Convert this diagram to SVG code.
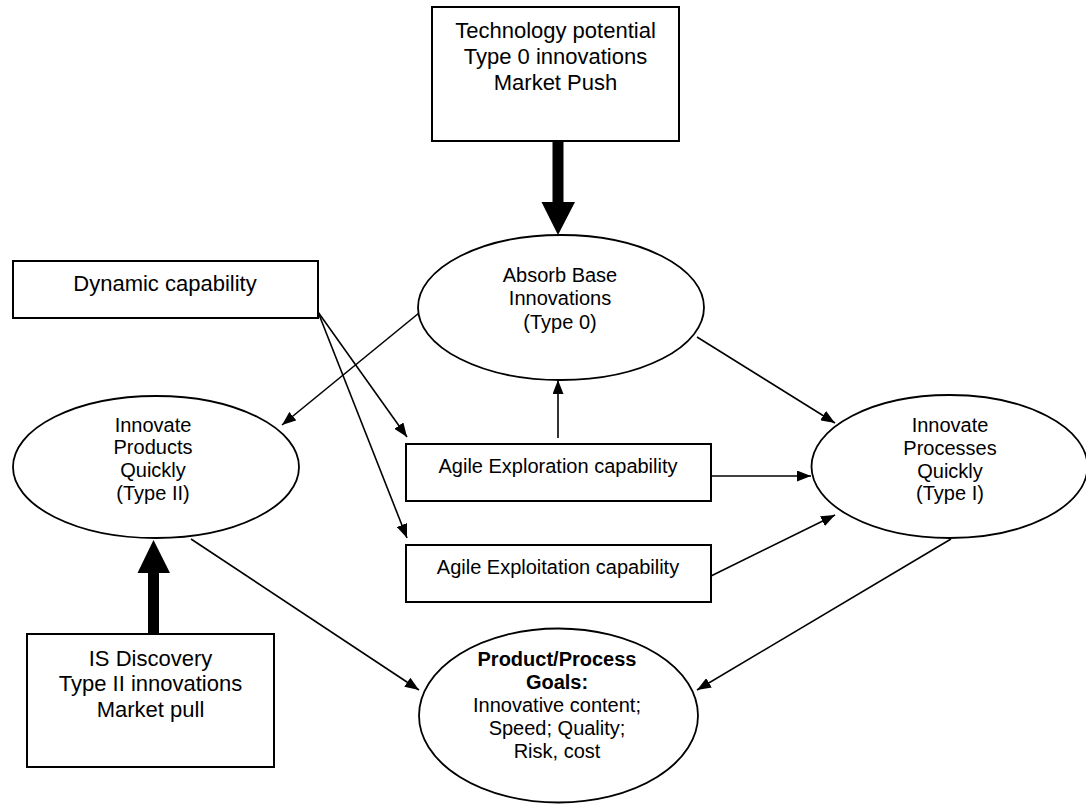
<svg xmlns="http://www.w3.org/2000/svg" width="1086" height="804" viewBox="0 0 1086 804">
<style>
  .box { fill: #fff; stroke: #000; stroke-width: 2; }
  .ell { fill: #fff; stroke: #000; stroke-width: 1.8; }
  .big { font-family: "Liberation Sans", Arial, sans-serif; font-size: 22px; fill: #000; text-anchor: middle; }
  .mid { font-family: "Liberation Sans", Arial, sans-serif; font-size: 20px; fill: #000; text-anchor: middle; }
  .bold { font-weight: bold; }
  .conn { stroke: #000; stroke-width: 1.6; fill: none; marker-end: url(#ah); }
  .thick { stroke: #000; stroke-width: 11; fill: none; }
  .head { fill: #000; stroke: none; }
</style>
<defs>
  <marker id="ah" markerUnits="userSpaceOnUse" markerWidth="15" markerHeight="11" refX="14" refY="5.5" orient="auto">
    <path d="M0,0 L14,5.5 L0,11 z" fill="#000"/>
  </marker>
</defs>
<rect width="1086" height="804" fill="#fff"/>

<g id="connectors">
  <line class="conn" x1="419" y1="313" x2="282" y2="425"/>
  <line class="conn" x1="318" y1="312" x2="407" y2="437"/>
  <line class="conn" x1="318" y1="312" x2="407" y2="538"/>
  <line class="conn" x1="697" y1="337" x2="835" y2="423"/>
  <line class="conn" x1="558" y1="438" x2="558" y2="380"/>
  <line class="conn" x1="711" y1="476" x2="811" y2="476"/>
  <line class="conn" x1="711" y1="576" x2="835" y2="515"/>
  <line class="conn" x1="191" y1="539" x2="419" y2="690"/>
  <line class="conn" x1="951" y1="539" x2="697" y2="690"/>
  <g id="thick-top">
    <line class="thick" x1="558" y1="141" x2="558" y2="203"/>
    <path class="head" d="M541.5,202 L575,202 L558,235 z"/>
  </g>
  <g id="thick-bottom">
    <line class="thick" x1="153.5" y1="634" x2="153.5" y2="572"/>
    <path class="head" d="M137.5,573 L170,573 L153.5,540 z"/>
  </g>
</g>

<g id="tech">
  <rect class="box" x="432" y="7" width="247" height="134"/>
  <text class="big" x="555.5" y="38">Technology potential</text>
  <text class="big" x="555.5" y="64">Type 0 innovations</text>
  <text class="big" x="555.5" y="90">Market Push</text>
</g>

<g id="dynamic">
  <rect class="box" x="13" y="261" width="305" height="57"/>
  <text class="big" x="165" y="291">Dynamic capability</text>
</g>

<g id="absorb">
  <ellipse class="ell" cx="561" cy="307.5" rx="143" ry="72.5"/>
  <text class="mid" x="560" y="282">Absorb Base</text>
  <text class="mid" x="560" y="305">Innovations</text>
  <text class="mid" x="560" y="329">(Type 0)</text>
</g>

<g id="products">
  <ellipse class="ell" cx="156" cy="467" rx="143" ry="71"/>
  <text class="mid" x="153" y="432">Innovate</text>
  <text class="mid" x="153" y="454">Products</text>
  <text class="mid" x="153" y="477">Quickly</text>
  <text class="mid" x="153" y="500">(Type II)</text>
</g>

<g id="exploration">
  <rect class="box" x="406" y="444" width="305" height="57"/>
  <text class="mid" x="558" y="473">Agile Exploration capability</text>
</g>

<g id="exploitation">
  <rect class="box" x="406" y="545" width="305" height="57"/>
  <text class="mid" x="558" y="574">Agile Exploitation capability</text>
</g>

<g id="processes">
  <ellipse class="ell" cx="949.5" cy="466.5" rx="138" ry="71.5"/>
  <text class="mid" x="950" y="432">Innovate</text>
  <text class="mid" x="950" y="455">Processes</text>
  <text class="mid" x="950" y="478">Quickly</text>
  <text class="mid" x="950" y="500">(Type I)</text>
</g>

<g id="discovery">
  <rect class="box" x="27" y="634" width="247" height="133"/>
  <text class="big" x="150.5" y="666">IS Discovery</text>
  <text class="big" x="150.5" y="691">Type II innovations</text>
  <text class="big" x="150.5" y="717">Market pull</text>
</g>

<g id="goals">
  <ellipse class="ell" cx="558.5" cy="715.5" rx="139.5" ry="87"/>
  <text class="mid bold" x="557" y="666">Product/Process</text>
  <text class="mid bold" x="557" y="689">Goals:</text>
  <text class="mid" x="557" y="712">Innovative content;</text>
  <text class="mid" x="557" y="735">Speed; Quality;</text>
  <text class="mid" x="557" y="758">Risk, cost</text>
</g>
</svg>
